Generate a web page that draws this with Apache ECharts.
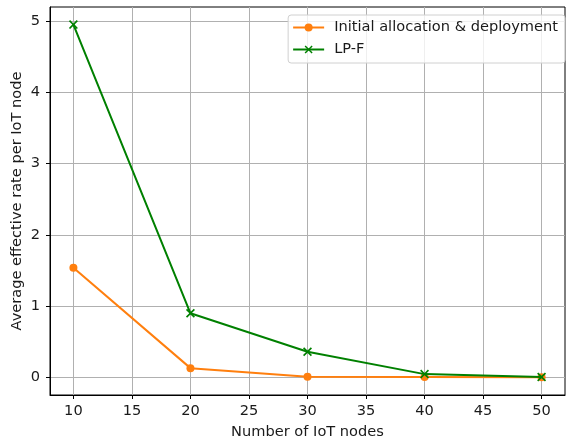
<!DOCTYPE html>
<html>
<head>
<meta charset="utf-8">
<script src="https://cdn.jsdelivr.net/npm/echarts@6/dist/echarts.min.js"></script>
<style>
  html, body { margin: 0; padding: 0; background: #fff; }
  #chart { width: 569px; height: 445px; }
</style>
</head>
<body>
<div id="chart"></div>
<script>
// Number of IoT nodes on the x axis
const nodeCounts = [10, 20, 30, 40, 50];
// Average effective rate per IoT node for each scheme
const initialAllocation = [1.54, 0.13, 0.01, 0.005, 0.002];
const lpF = [4.95, 0.90, 0.36, 0.046, 0.005];
// Tick values shown on the axes
const xTicks = [10, 15, 20, 25, 30, 35, 40, 45, 50];
const yTicks = [0, 1, 2, 3, 4, 5];

const seriesNames = ['Initial allocation & deployment', 'LP-F'];
const FONT = 'DejaVu Sans';
const FS = 14.6;
const TEXT = '#1a1a1a';
const CROSS = 'path://M0,1.3L1.3,0L5,3.7L8.7,0L10,1.3L6.3,5L10,8.7L8.7,10L5,6.3L1.3,10L0,8.7L3.7,5Z';

const chart = echarts.init(document.getElementById('chart'), null, { renderer: 'canvas' });

const pairs = (xs, ys) => xs.map((x, i) => [x, ys[i]]);

chart.setOption({
  animation: false,
  backgroundColor: '#fff',
  textStyle: { fontFamily: FONT },
  grid: {
    left: 50, right: 4, top: 7, bottom: 50,
    containLabel: false, outerBoundsMode: 'none',
    show: true, borderColor: '#000', borderWidth: 1, backgroundColor: 'transparent'
  },
  legend: {
    data: seriesNames,
    orient: 'vertical',
    right: 4, top: 15,
    itemWidth: 31, itemHeight: 10, itemGap: 7,
    padding: [5, 7, 6, 4],
    backgroundColor: 'rgba(255,255,255,0.8)',
    borderColor: '#d0d0d0', borderWidth: 1, borderRadius: 3,
    textStyle: { fontFamily: FONT, fontSize: FS, color: TEXT, padding: [0, 0, 0, 5] }
  },
  xAxis: {
    type: 'value',
    min: 8, max: 52,
    name: 'Number of IoT nodes',
    nameLocation: 'middle', nameGap: 30, nameMoveOverlap: false,
    nameTextStyle: { fontFamily: FONT, fontSize: FS, color: TEXT },
    axisLine: { show: true, onZero: false, lineStyle: { color: '#000', width: 1 } },
    axisTick: { show: true, inside: false, length: 4, customValues: xTicks, lineStyle: { color: '#000' } },
    axisLabel: { customValues: xTicks, fontFamily: FONT, fontSize: FS, color: TEXT, margin: 9 },
    splitLine: { show: true, lineStyle: { color: '#b0b0b0', width: 1 } }
  },
  yAxis: {
    type: 'value',
    min: -0.247, max: 5.197,
    name: 'Average effective rate per IoT node',
    nameLocation: 'middle', nameGap: 25, nameMoveOverlap: false,
    nameTextStyle: { fontFamily: FONT, fontSize: FS, color: TEXT },
    axisLine: { show: true, onZero: false, lineStyle: { color: '#000', width: 1 } },
    axisTick: { show: true, inside: false, length: 4, customValues: yTicks, lineStyle: { color: '#000' } },
    axisLabel: { customValues: yTicks, fontFamily: FONT, fontSize: FS, color: TEXT, margin: 10 },
    splitLine: { show: true, lineStyle: { color: '#b0b0b0', width: 1 } }
  },
  series: [
    {
      name: seriesNames[0],
      type: 'line',
      data: pairs(nodeCounts, initialAllocation),
      color: '#ff7f0e',
      symbol: 'circle', symbolSize: 8,
      lineStyle: { width: 2 },
      z: 3
    },
    {
      name: seriesNames[1],
      type: 'line',
      data: pairs(nodeCounts, lpF),
      color: '#008000',
      symbol: CROSS, symbolSize: 9,
      lineStyle: { width: 2 },
      z: 4
    }
  ]
});
</script>
</body>
</html>
